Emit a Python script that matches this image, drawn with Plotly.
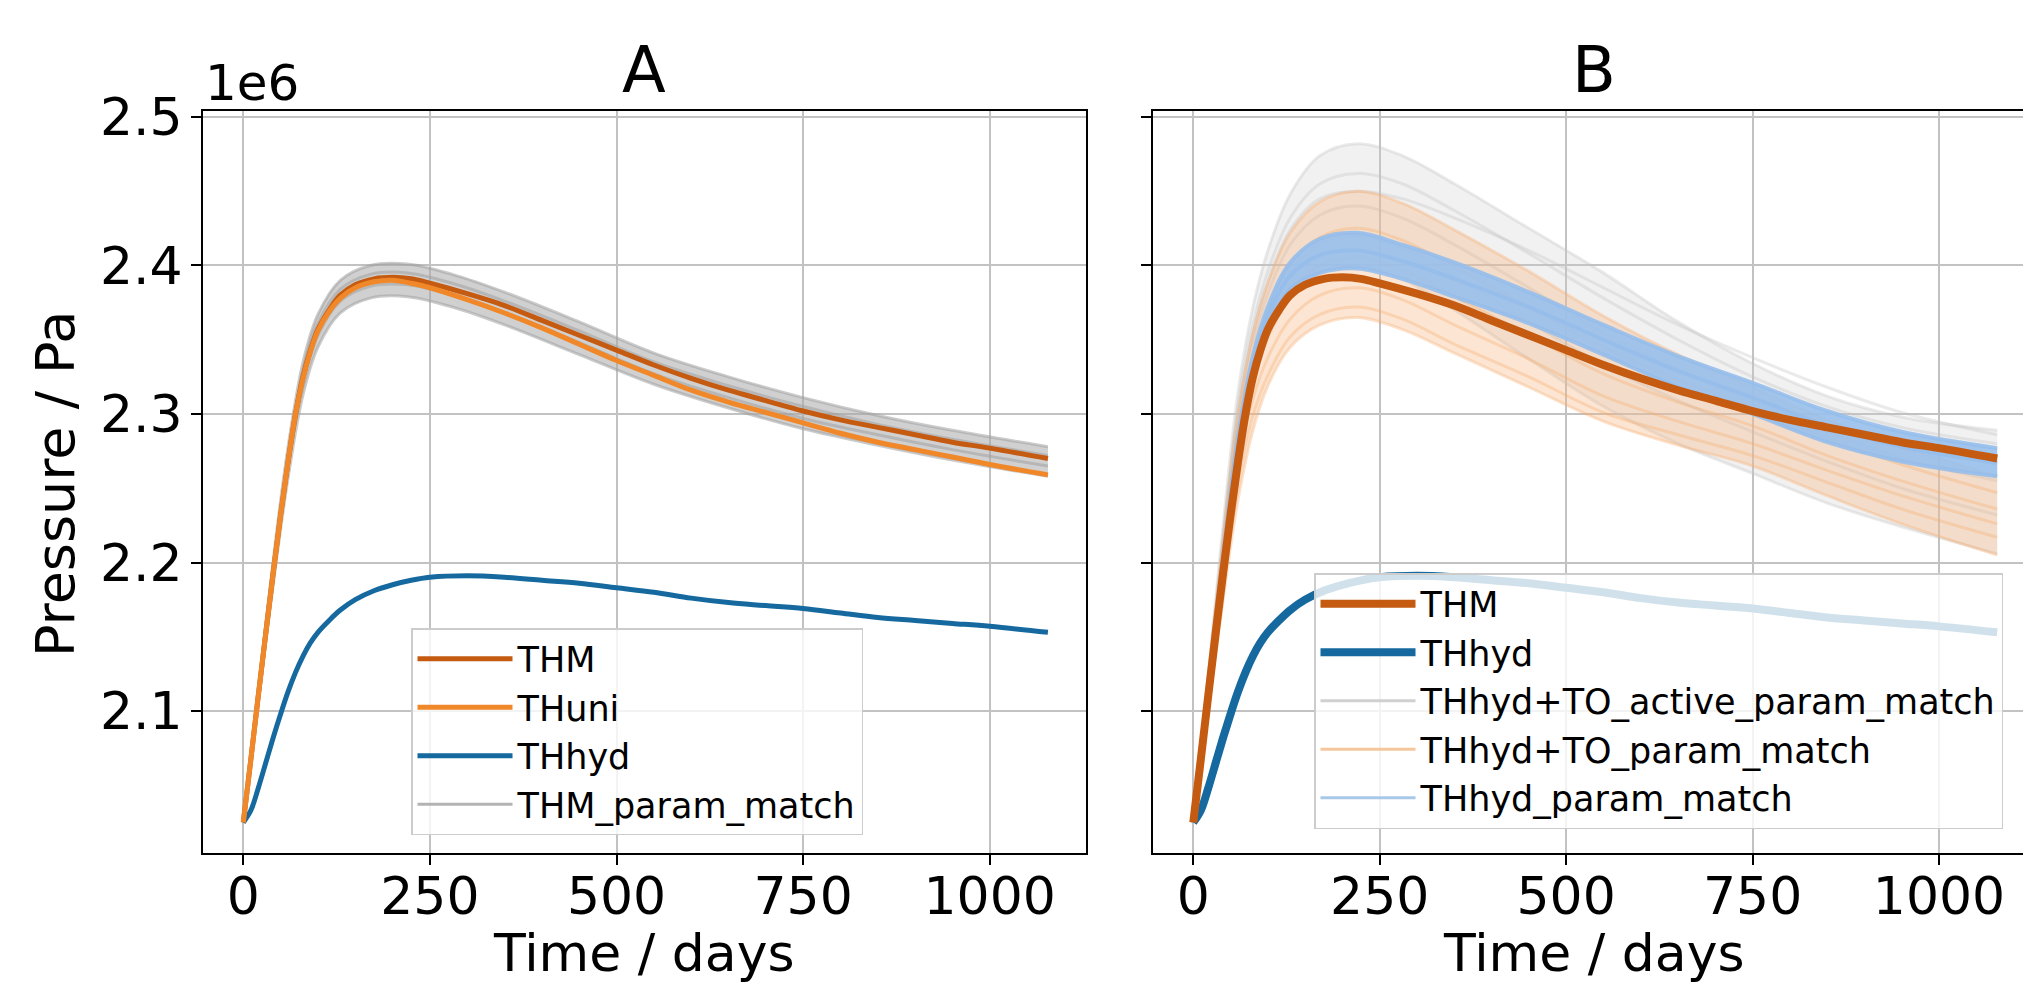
import numpy as np
import plotly.graph_objects as go

# ---------------- data (pressure in units of 1e6 Pa) ----------------
days = [0, 10, 20, 30, 40, 50, 60, 70, 80, 90, 100, 115, 130, 150, 175, 200, 225, 250,
        300, 350, 400, 450, 500, 550, 600, 650, 700, 750, 800, 850, 900, 950, 1000, 1078]

thm = [2.025, 2.067, 2.110, 2.152, 2.193, 2.232, 2.268, 2.300, 2.325, 2.343, 2.357, 2.370,
       2.380, 2.387, 2.391, 2.392, 2.391, 2.388,
       2.381, 2.373, 2.363, 2.353, 2.343, 2.333, 2.324, 2.316, 2.309, 2.302, 2.296, 2.291,
       2.286, 2.281, 2.277, 2.270]
thuni = [2.025, 2.067, 2.110, 2.152, 2.193, 2.232, 2.268, 2.300, 2.324, 2.342, 2.356, 2.369,
         2.378, 2.385, 2.389, 2.390, 2.388, 2.385,
         2.377, 2.368, 2.358, 2.347, 2.336, 2.326, 2.316, 2.308, 2.301, 2.294, 2.287, 2.281,
         2.276, 2.271, 2.266, 2.259]
thhyd = [2.025, 2.033, 2.048, 2.065, 2.082, 2.098, 2.113, 2.126, 2.137, 2.146, 2.153, 2.161,
         2.168, 2.175, 2.181, 2.185, 2.188, 2.190,
         2.191, 2.190, 2.188, 2.186, 2.183, 2.180, 2.176, 2.173, 2.171, 2.169, 2.166, 2.163,
         2.161, 2.159, 2.157, 2.153]

days_ens = [0, 15, 30, 45, 60, 80, 100, 130, 170, 220, 280, 350, 450, 550, 650, 750, 850, 950, 1078]

thm_match_1 = [2.025, 2.092, 2.158, 2.222, 2.278, 2.335, 2.367, 2.390, 2.400, 2.401, 2.394, 2.382, 2.362, 2.341, 2.325, 2.311, 2.299, 2.289, 2.278]
thm_match_2 = [2.025, 2.090, 2.154, 2.216, 2.271, 2.329, 2.361, 2.384, 2.394, 2.395, 2.388, 2.376, 2.356, 2.335, 2.319, 2.305, 2.293, 2.283, 2.272]
thm_match_3 = [2.025, 2.088, 2.150, 2.210, 2.264, 2.321, 2.353, 2.376, 2.386, 2.387, 2.380, 2.368, 2.348, 2.327, 2.311, 2.297, 2.286, 2.276, 2.265]
thm_match_4 = [2.025, 2.086, 2.146, 2.204, 2.257, 2.313, 2.345, 2.368, 2.378, 2.379, 2.372, 2.360, 2.340, 2.320, 2.304, 2.290, 2.279, 2.269, 2.258]

active_1 = [2.025, 2.100, 2.175, 2.250, 2.315, 2.372, 2.410, 2.448, 2.474, 2.482, 2.474, 2.455, 2.425, 2.395, 2.362, 2.334, 2.312, 2.298, 2.289]
active_2 = [2.025, 2.098, 2.170, 2.242, 2.305, 2.360, 2.396, 2.432, 2.455, 2.462, 2.455, 2.437, 2.408, 2.378, 2.350, 2.325, 2.305, 2.291, 2.280]
active_3 = [2.025, 2.096, 2.166, 2.234, 2.294, 2.347, 2.381, 2.414, 2.434, 2.440, 2.432, 2.414, 2.385, 2.355, 2.330, 2.308, 2.288, 2.270, 2.255]
active_4 = [2.025, 2.094, 2.162, 2.226, 2.284, 2.334, 2.366, 2.396, 2.414, 2.420, 2.412, 2.393, 2.362, 2.333, 2.309, 2.288, 2.268, 2.250, 2.232]
active_5 = [2.025, 2.092, 2.157, 2.218, 2.273, 2.321, 2.351, 2.378, 2.395, 2.400, 2.391, 2.370, 2.337, 2.305, 2.280, 2.260, 2.240, 2.224, 2.206]
active_6 = [2.025, 2.097, 2.168, 2.238, 2.300, 2.354, 2.389, 2.424, 2.445, 2.450, 2.445, 2.432, 2.410, 2.385, 2.360, 2.338, 2.318, 2.301, 2.286]

to_1 = [2.025, 2.097, 2.168, 2.238, 2.300, 2.354, 2.388, 2.422, 2.443, 2.450, 2.442, 2.424, 2.396, 2.366, 2.340, 2.318, 2.296, 2.278, 2.258]
to_2 = [2.025, 2.094, 2.163, 2.228, 2.287, 2.338, 2.370, 2.401, 2.419, 2.425, 2.417, 2.399, 2.372, 2.345, 2.323, 2.305, 2.284, 2.266, 2.247]
to_3 = [2.025, 2.092, 2.158, 2.220, 2.276, 2.325, 2.355, 2.383, 2.400, 2.405, 2.397, 2.379, 2.353, 2.327, 2.308, 2.292, 2.272, 2.255, 2.236]
to_4 = [2.025, 2.089, 2.152, 2.211, 2.264, 2.310, 2.338, 2.364, 2.380, 2.385, 2.377, 2.360, 2.337, 2.312, 2.295, 2.280, 2.262, 2.245, 2.226]
to_5 = [2.025, 2.086, 2.146, 2.203, 2.254, 2.299, 2.326, 2.352, 2.367, 2.372, 2.364, 2.347, 2.325, 2.301, 2.286, 2.272, 2.254, 2.236, 2.217]
to_6 = [2.025, 2.082, 2.138, 2.193, 2.242, 2.289, 2.319, 2.345, 2.360, 2.365, 2.357, 2.341, 2.318, 2.295, 2.279, 2.265, 2.245, 2.226, 2.205]

hyd_match_1 = [2.025, 2.092, 2.160, 2.226, 2.285, 2.339, 2.372, 2.402, 2.418, 2.422, 2.414, 2.402, 2.382, 2.360, 2.339, 2.321, 2.302, 2.288, 2.277]
hyd_match_2 = [2.025, 2.091, 2.158, 2.222, 2.280, 2.333, 2.365, 2.393, 2.407, 2.410, 2.403, 2.391, 2.372, 2.350, 2.329, 2.311, 2.292, 2.278, 2.267]
hyd_match_3 = [2.025, 2.090, 2.155, 2.218, 2.274, 2.327, 2.358, 2.384, 2.395, 2.398, 2.391, 2.379, 2.361, 2.340, 2.318, 2.300, 2.281, 2.268, 2.258]

y_ticks = [2.1, 2.2, 2.3, 2.4, 2.5]
y_tick_labels = ["2.1", "2.2", "2.3", "2.4", "2.5"]
x_ticks = [0, 250, 500, 750, 1000]
x_tick_labels = ["0", "250", "500", "750", "1000"]

SCALE = 1e6
FONT = "DejaVu Sans"
C_THM = "#c55a11"
C_UNI = "#f0882a"
C_HYD = "#15699f"
SM = 1.0

def pa(v):
    return (np.array(v) * SCALE).tolist()

fig = go.Figure()

def ens(xa, ya, members, line_col, fill_col, width, lg):
    # first = upper envelope, second = lower envelope (filled to first), rest lines
    for i, m in enumerate(members):
        fig.add_trace(go.Scatter(
            x=days_ens, y=pa(m), mode="lines", xaxis=xa, yaxis=ya,
            line=dict(color=line_col, width=width, shape="spline", smoothing=SM),
            fill="tonexty" if i == 1 else None,
            fillcolor=fill_col if i == 1 else None,
            showlegend=False, hoverinfo="skip", legend=lg))

def legend_only(name, color, width, lg, rank):
    fig.add_trace(go.Scatter(x=[None], y=[None], mode="lines", name=name,
                             line=dict(color=color, width=width),
                             legend=lg, legendrank=rank, xaxis="x" if lg == "legend" else "x2",
                             yaxis="y" if lg == "legend" else "y2"))

# ---------- panel A ----------
ens("x", "y", [thm_match_1, thm_match_4, thm_match_2, thm_match_3],
    "rgba(160,160,160,0.55)", "rgba(170,170,170,0.55)", 3, "legend")
fig.add_trace(go.Scatter(x=days, y=pa(thhyd), mode="lines", name="THhyd", xaxis="x", yaxis="y",
                         line=dict(color=C_HYD, width=5, shape="spline", smoothing=SM),
                         legend="legend", legendrank=3))
fig.add_trace(go.Scatter(x=days, y=pa(thm), mode="lines", name="THM", xaxis="x", yaxis="y",
                         line=dict(color=C_THM, width=5, shape="spline", smoothing=SM),
                         legend="legend", legendrank=1))
fig.add_trace(go.Scatter(x=days, y=pa(thuni), mode="lines", name="THuni", xaxis="x", yaxis="y",
                         line=dict(color=C_UNI, width=5, shape="spline", smoothing=SM),
                         legend="legend", legendrank=2))
legend_only("THM_param_match", "#b3b3b3", 3, "legend", 4)

# ---------- panel B ----------
ens("x2", "y2", [active_1, active_5, active_2, active_3, active_4, active_6],
    "rgba(195,195,195,0.35)", "rgba(205,205,205,0.28)", 3, "legend2")
ens("x2", "y2", [to_1, to_6, to_2, to_3, to_4, to_5],
    "rgba(245,172,112,0.35)", "rgba(246,182,128,0.35)", 3, "legend2")
ens("x2", "y2", [hyd_match_1, hyd_match_3, hyd_match_2],
    "rgba(150,190,235,0.9)", "rgba(152,192,236,0.9)", 4, "legend2")
fig.add_trace(go.Scatter(x=days, y=pa(thhyd), mode="lines", name="THhyd", xaxis="x2", yaxis="y2",
                         line=dict(color=C_HYD, width=8, shape="spline", smoothing=SM),
                         legend="legend2", legendrank=2))
fig.add_trace(go.Scatter(x=days, y=pa(thm), mode="lines", name="THM", xaxis="x2", yaxis="y2",
                         line=dict(color=C_THM, width=8, shape="spline", smoothing=SM),
                         legend="legend2", legendrank=1))
legend_only("THhyd+TO_active_param_match", "#d0d0d0", 3, "legend2", 3)
legend_only("THhyd+TO_param_match", "#f6c69c", 3, "legend2", 4)
legend_only("THhyd_param_match", "#a8c8ea", 3, "legend2", 5)

W, H = 2023, 982
def px(v):
    return v / W
def py(v):
    return 1 - v / H

yr = [2.0044 * SCALE, 2.504 * SCALE]
xr_a = [-54, 1129]
xr_b = [-54, 1112.6]

TICK_SIZE = 52
common = dict(showgrid=True, gridcolor="#c2c2c2", gridwidth=1.5, showline=True,
              linecolor="black", linewidth=2, ticks="outside", ticklen=10, tickwidth=2,
              tickcolor="black", zeroline=False, automargin=False,
              tickfont=dict(size=TICK_SIZE, color="black", family=FONT))

leg_common = dict(xanchor="left", yanchor="top", bgcolor="rgba(255,255,255,0.8)",
                  bordercolor="#cccccc", borderwidth=1.5, traceorder="normal",
                  font=dict(size=35, family=FONT, color="black"), itemwidth=95,
                  tracegroupgap=0)

fig.update_layout(
    width=W, height=H,
    margin=dict(l=0, r=0, t=0, b=0, autoexpand=False),
    paper_bgcolor="white", plot_bgcolor="white",
    font=dict(family=FONT, color="black"),
    xaxis=dict(domain=[px(203), px(1086)], range=xr_a, tickvals=x_ticks, ticktext=x_tick_labels,
               anchor="y", mirror=True, ticklabelstandoff=-13, **common),
    yaxis=dict(domain=[py(853), py(111)], range=yr, tickvals=[v * SCALE for v in y_ticks],
               ticktext=y_tick_labels, anchor="x", mirror=True, ticklabelstandoff=-2, **common),
    xaxis2=dict(domain=[px(1153), 1.0], range=xr_b, tickvals=x_ticks, ticktext=x_tick_labels,
                anchor="y2", mirror=True, ticklabelstandoff=-13, **common),
    yaxis2=dict(domain=[py(853), py(111)], range=yr, tickvals=[v * SCALE for v in y_ticks],
                showticklabels=False, anchor="x2", mirror=False, **common),
    legend=dict(x=px(411), y=py(628), **leg_common),
    legend2=dict(x=px(1314), y=py(573), **leg_common),
    showlegend=True,
)

ann = [
    dict(text="A", x=px(644), y=py(70), size=64),
    dict(text="B", x=px(1594), y=py(70), size=64),
    dict(text="Time / days", x=px(644), y=py(953), size=52),
    dict(text="Time / days", x=px(1594), y=py(953), size=52),
]
for a in ann:
    fig.add_annotation(text=a["text"], x=a["x"], y=a["y"], xref="paper", yref="paper",
                       xanchor="center", yanchor="middle", showarrow=False,
                       font=dict(size=a["size"], family=FONT, color="black"))
fig.add_annotation(text="1e6", x=px(203), y=py(83), xref="paper", yref="paper",
                   xanchor="left", yanchor="middle", showarrow=False,
                   font=dict(size=50, family=FONT, color="black"))
fig.add_annotation(text="Pressure / Pa", x=px(55), y=py(484), xref="paper", yref="paper",
                   xanchor="center", yanchor="middle", showarrow=False, textangle=-90,
                   font=dict(size=54, family=FONT, color="black"))

fig.write_html("out.html", config={"displayModeBar": False},
               post_script="document.body.style.margin='0';document.body.style.overflow='hidden';")
